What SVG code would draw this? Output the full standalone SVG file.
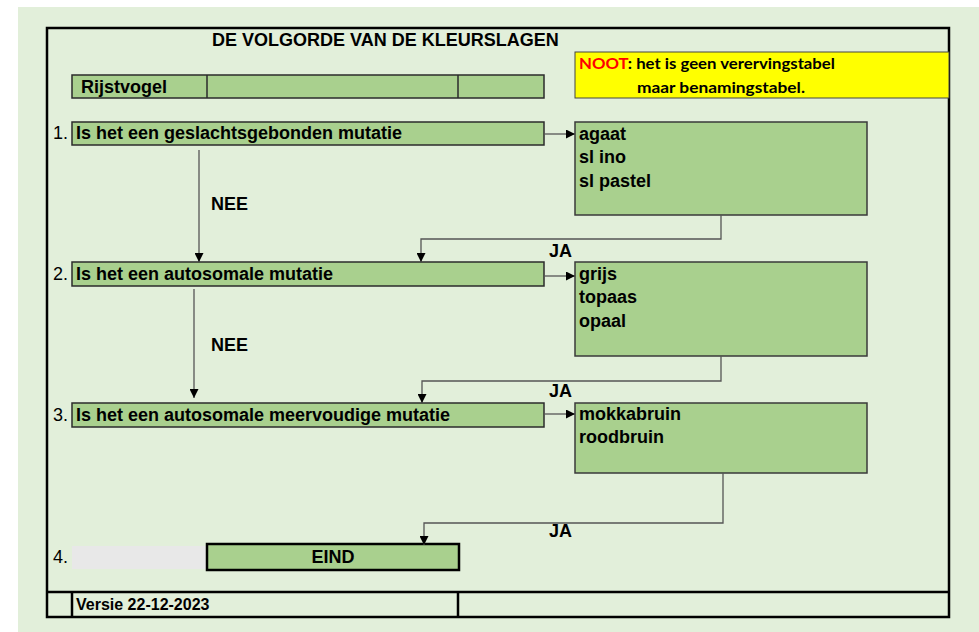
<svg xmlns="http://www.w3.org/2000/svg" width="979" height="632" viewBox="0 0 979 632">
<defs>
<style>
.t{font-family:"Liberation Sans",Arial,sans-serif;font-size:18px;fill:#000}
.b{font-weight:bold}
.box{fill:#a9d08e;stroke:#2b2b2b;stroke-width:1.5}
.ans{fill:#a9d08e;stroke:#3a3a3a;stroke-width:1.5}
.ln{fill:none;stroke:#000;stroke-width:2.5}
.c{fill:none;stroke:#555;stroke-width:1.3}
.note{font-family:Lato,"Open Sans",sans-serif;font-size:16px;font-weight:bold;fill:#000}
</style>
<marker id="ah" markerUnits="userSpaceOnUse" markerWidth="9" markerHeight="9" refX="9" refY="4.5" orient="auto">
<path d="M0,0 L9,4.5 L0,9 z" fill="#000"/>
</marker>
</defs>
<rect x="18" y="7" width="961" height="625" fill="#e2efda"/>
<g id="frame">
<rect class="ln" x="47" y="28" width="902" height="589"/>
<line class="ln" x1="47" y1="592" x2="949" y2="592"/>
<line class="ln" x1="72" y1="592" x2="72" y2="617"/>
<line class="ln" x1="458" y1="592" x2="458" y2="617"/>
<text class="t b" x="76" y="610" style="font-size:16px">Versie 22-12-2023</text>
</g>
<text id="title" class="t b" x="212" y="46">DE VOLGORDE VAN DE KLEURSLAGEN</text>
<g id="header">
<rect class="box" x="72" y="75" width="472" height="23"/>
<line stroke="#2b2b2b" stroke-width="1.5" x1="207" y1="75" x2="207" y2="98"/>
<line stroke="#2b2b2b" stroke-width="1.5" x1="458" y1="75" x2="458" y2="98"/>
<text class="t b" x="81" y="93">Rijstvogel</text>
</g>
<g id="note">
<rect x="575" y="52" width="374" height="46" fill="#ffff00" stroke="#444" stroke-width="1"/>
<text class="note" x="579" y="69" textLength="256" lengthAdjust="spacingAndGlyphs"><tspan fill="#ff0000">NOOT</tspan>: het is geen verervingstabel</text>
<text class="note" x="637" y="93" textLength="168" lengthAdjust="spacingAndGlyphs">maar benamingstabel.</text>
</g>
<g id="q1">
<text class="t" x="53" y="139">1.</text>
<rect class="box" x="72" y="122" width="472" height="23"/>
<text class="t b" x="76" y="139">Is het een geslachtsgebonden mutatie</text>
</g>
<g id="a1">
<rect class="ans" x="575" y="122" width="292" height="93"/>
<text class="t b" x="579" y="140">agaat</text>
<text class="t b" x="579" y="163">sl ino</text>
<text class="t b" x="579" y="187">sl pastel</text>
</g>
<g id="q2">
<text class="t" x="53" y="280">2.</text>
<rect class="box" x="72" y="262" width="472" height="24"/>
<text class="t b" x="76" y="280">Is het een autosomale mutatie</text>
</g>
<g id="a2">
<rect class="ans" x="575" y="262" width="292" height="94"/>
<text class="t b" x="579" y="280">grijs</text>
<text class="t b" x="579" y="303">topaas</text>
<text class="t b" x="579" y="327">opaal</text>
</g>
<g id="q3">
<text class="t" x="53" y="421">3.</text>
<rect class="box" x="72" y="403" width="472" height="24"/>
<text class="t b" x="76" y="421">Is het een autosomale meervoudige mutatie</text>
</g>
<g id="a3">
<rect class="ans" x="575" y="403" width="292" height="70"/>
<text class="t b" x="579" y="420">mokkabruin</text>
<text class="t b" x="579" y="443">roodbruin</text>
</g>
<g id="q4">
<text class="t" x="53" y="563">4.</text>
<rect x="72" y="546" width="135" height="23" fill="#e8e8e8"/>
</g>
<g id="end">
<rect x="207" y="544" width="252" height="26" fill="#a9d08e" stroke="#000" stroke-width="2.5"/>
<text class="t b" x="333" y="563" text-anchor="middle">EIND</text>
</g>
<g id="connectors">
<line class="c" x1="544" y1="134" x2="575" y2="134" marker-end="url(#ah)"/>
<line class="c" x1="544" y1="276" x2="575" y2="276" marker-end="url(#ah)"/>
<line class="c" x1="544" y1="414" x2="575" y2="414" marker-end="url(#ah)"/>
<line class="c" x1="199" y1="150" x2="199" y2="262" marker-end="url(#ah)"/>
<line class="c" x1="194" y1="289" x2="194" y2="398" marker-end="url(#ah)"/>
<polyline class="c" points="721,215 721,239 421,239 421,262" marker-end="url(#ah)"/>
<polyline class="c" points="721,356 721,381 422,381 422,403" marker-end="url(#ah)"/>
<polyline class="c" points="723,473 723,523 424,523 424,545" marker-end="url(#ah)"/>
<text class="t b" x="211" y="210">NEE</text>
<text class="t b" x="211" y="351">NEE</text>
<text class="t b" x="549" y="257">JA</text>
<text class="t b" x="549" y="397">JA</text>
<text class="t b" x="549" y="537">JA</text>
</g>
</svg>
